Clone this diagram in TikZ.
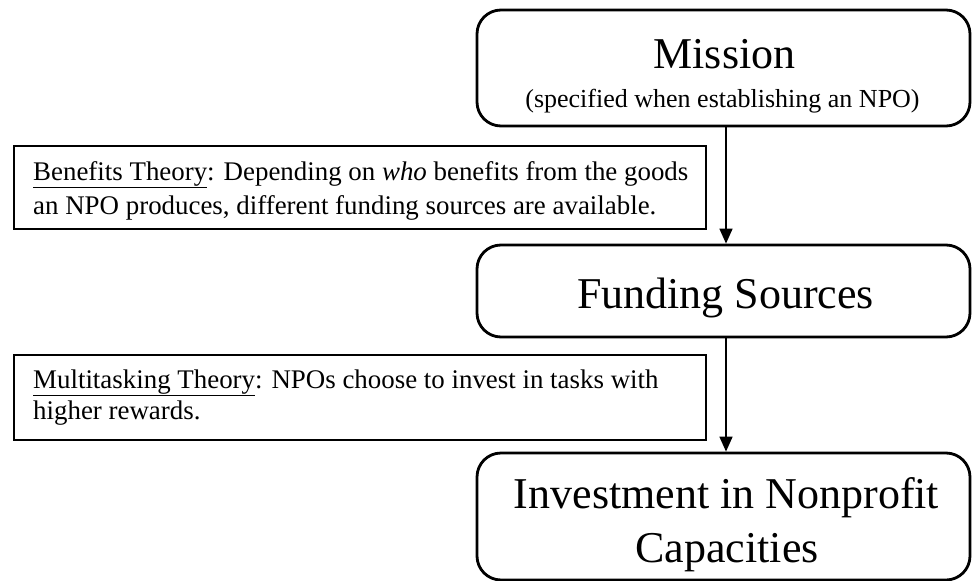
\documentclass[tikz,border=0pt]{standalone}
\usepackage{fontspec}
\setmainfont{Liberation Serif}
\usetikzlibrary{arrows.meta}
\begin{document}
\begin{tikzpicture}[x=1pt,y=-1pt,
  mainbox/.style={draw, line width=2.8pt, rounded corners=24pt, minimum width=493pt, inner sep=0pt},
  theorybox/.style={draw, line width=1.8pt, minimum width=692pt, inner sep=0pt},
  bigtext/.style={anchor=base, inner sep=0pt, font=\fontsize{44}{50}\selectfont},
  subtext/.style={anchor=base, inner sep=0pt, font=\fontsize{26}{30}\selectfont},
  theorytext/.style={anchor=base west, inner sep=0pt, font=\fontsize{26.9}{32}\selectfont},
  arr/.style={line width=1.6pt, -{Triangle[length=15pt, width=13pt]}}]
\useasboundingbox (0,0) rectangle (972,581);
% boxes
\node[mainbox, minimum height=116pt] (mission) at (723.5,68) {};
\node[mainbox, minimum height=92pt] (funding) at (723.5,291) {};
\node[mainbox, minimum height=127pt] (invest) at (723.5,516.5) {};
\node[theorybox, minimum height=83pt] (benefits) at (360,187.5) {};
\node[theorybox, minimum height=85pt] (multi) at (360,397.5) {};
% texts
\node[bigtext] (missiont) at (724.5,68) {Mission};
\node[subtext] (missions) at (722.5,107) {(specified when establishing an NPO)};
\node[bigtext] (fundingt) at (725.5,308) {Funding Sources};
\node[bigtext] (investt1) at (726.5,508) {Investment in Nonprofit};
\node[bigtext] (investt2) at (727,562) {Capacities};
\node[theorytext] (bt1) at (33,180) {\underline{Benefits Theory}: Depending on \textit{who} benefits from the goods};
\node[theorytext] (bt2) at (33,214) {an NPO produces, different funding sources are available.};
\node[theorytext] (mt1) at (33,388) {\underline{Multitasking Theory}: NPOs choose to invest in tasks with};
\node[theorytext] (mt2) at (33,419) {higher rewards.};
% arrows
\coordinate (ax) at (726,0);
\draw[arr] (mission.south -| ax) -- (funding.north -| ax);
\draw[arr] (funding.south -| ax) -- (invest.north -| ax);
\end{tikzpicture}
\end{document}
